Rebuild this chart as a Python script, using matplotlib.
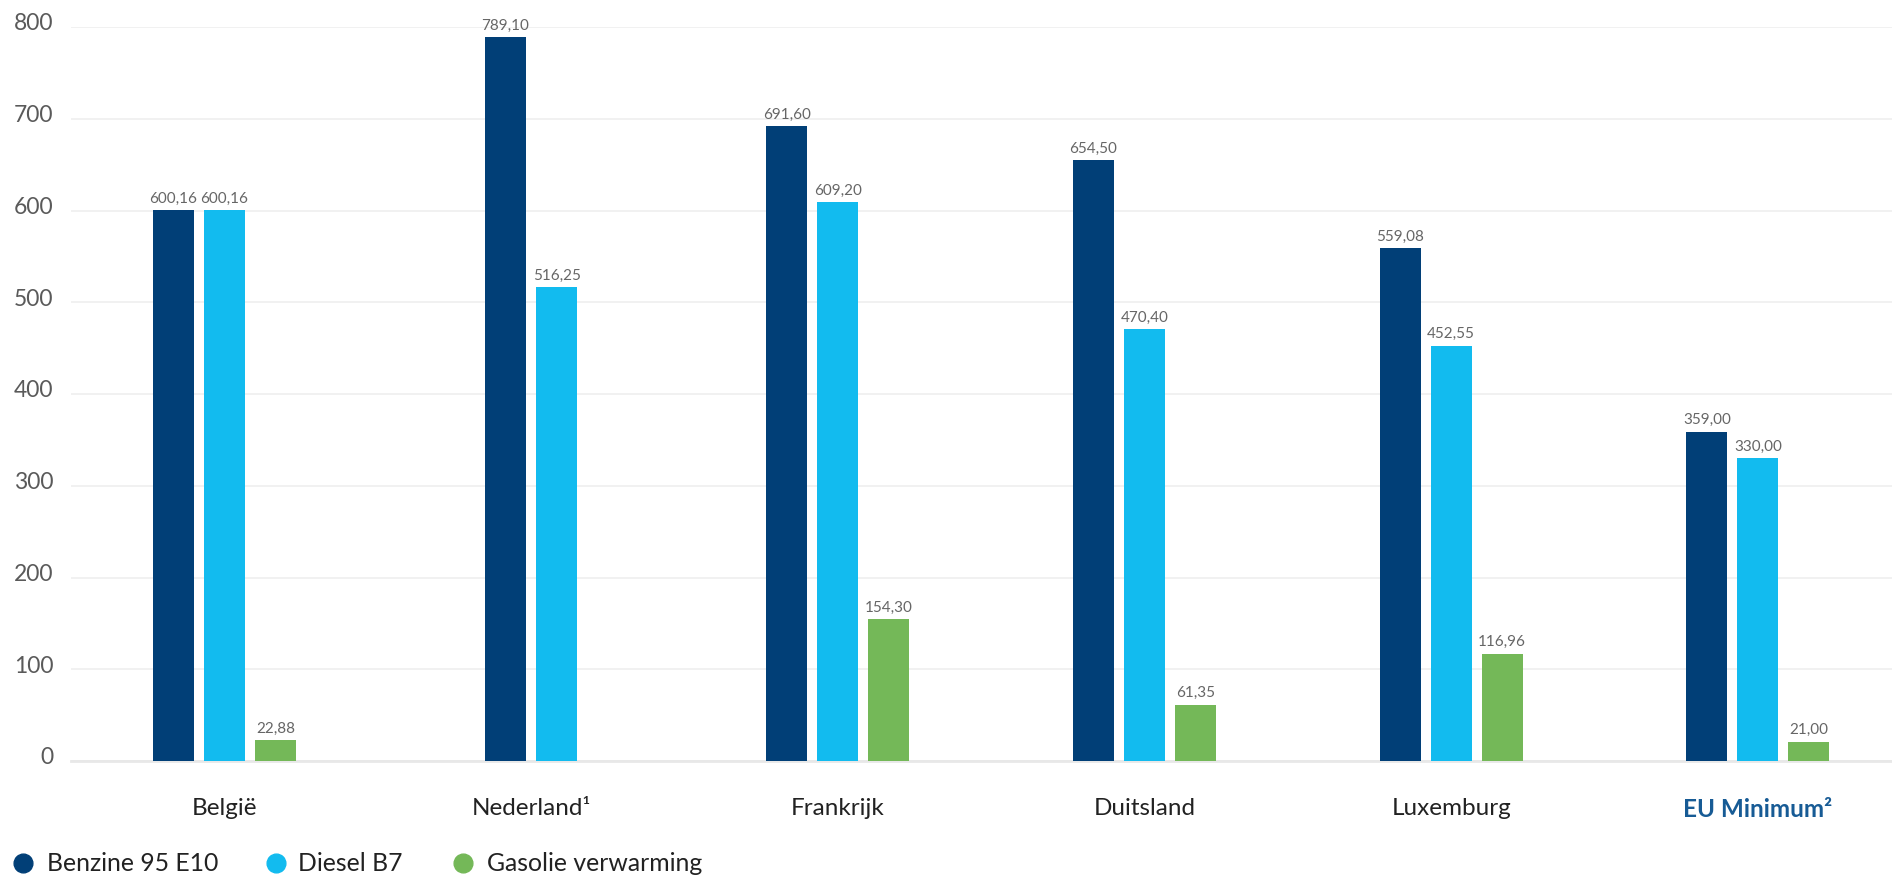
import numpy as np
import matplotlib
matplotlib.use("Agg")
import matplotlib.pyplot as plt
from matplotlib.lines import Line2D
from matplotlib.transforms import ScaledTranslation

plt.rcParams['font.family'] = ['Lato', 'DejaVu Sans']

categories = ["België", "Nederland¹", "Frankrijk", "Duitsland", "Luxemburg", "EU Minimum²"]
series_names = ["Benzine 95 E10", "Diesel B7", "Gasolie verwarming"]
benzine = [600.16, 789.10, 691.60, 654.50, 559.08, 359.00]
diesel = [600.16, 516.25, 609.20, 470.40, 452.55, 330.00]
gasolie = [22.88, None, 154.30, 61.35, 116.96, 21.00]
yticks = [0, 100, 200, 300, 400, 500, 600, 700, 800]

colors = ["#013f77", "#12bbef", "#74b858"]
series = [benzine, diesel, gasolie]

W, H = 1892, 878
fig = plt.figure(figsize=(W / 100, H / 100), dpi=100)
ax_left, ax_right, ax_top, ax_bottom = 71, 1892, 28, 762
ax = fig.add_axes([ax_left / W, (H - ax_bottom) / H, (ax_right - ax_left) / W, (ax_bottom - ax_top) / H])

cat_px = 306.7
bar_w = 41 / cat_px
step = 51 / cat_px

for i, cat in enumerate(categories):
    present = [k for k in range(3) if series[k][i] is not None]
    n = len(present)
    for j, k in enumerate(present):
        v = series[k][i]
        x = i + (j - (n - 1) / 2) * step
        ax.bar(x, v, width=bar_w, color=colors[k], zorder=3, linewidth=0)
        ax.annotate(f"{v:.2f}".replace(".", ","), (x, v), xytext=(0, 4), textcoords="offset points",
                    ha="center", va="bottom", fontsize=11, color="#666666", zorder=4)

ax.set_xlim(-0.5, -0.5 + (ax_right - ax_left) / cat_px)
ax.set_ylim(0, 800)
ax.set_yticks(yticks)
ax.set_yticklabels([str(t) for t in yticks], fontsize=16.5, color="#5a5a5a")
ax.yaxis.grid(True, color="#efefef", linewidth=1.2, zorder=0)
ax.set_axisbelow(True)
ax.tick_params(axis="y", length=0, pad=12.5)
offset = ScaledTranslation(0, 6 / 100, fig.dpi_scale_trans)
for lab in ax.get_yticklabels():
    lab.set_transform(lab.get_transform() + offset)

ax.set_xticks(range(len(categories)))
ax.set_xticklabels(categories, fontsize=17.5, color="#222222")
ax.tick_params(axis="x", length=0, pad=26)
xl = ax.get_xticklabels()
xl[-1].set_fontweight("bold")
xl[-1].set_color("#175b95")

for s in ["top", "right", "left"]:
    ax.spines[s].set_visible(False)
ax.spines["bottom"].set_color("#e8e8e8")
ax.spines["bottom"].set_linewidth(2)
ax.spines["bottom"].set_zorder(2)

# legend
leg_y = 1 - 864 / H
marker_x = [23, 276, 463]
text_x = [47, 298, 487]
for k in range(3):
    fig.add_artist(Line2D([marker_x[k] / W], [leg_y], marker="o", markersize=13.5,
                          color=colors[k], linestyle="none", transform=fig.transFigure))
    fig.text(text_x[k] / W, leg_y, series_names[k], fontsize=17.8, color="#222222", va="center", ha="left")

fig.savefig("out.png", dpi=100)
